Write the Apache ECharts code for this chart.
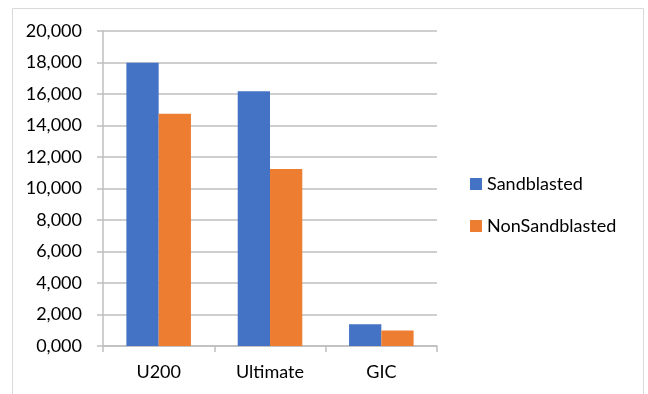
<!DOCTYPE html>
<html><head><meta charset="utf-8">
<script src="https://cdn.jsdelivr.net/npm/echarts@6/dist/echarts.min.js"></script>
<style>html,body{margin:0;padding:0;background:#fff}#c{width:648px;height:394px}</style>
</head><body><div id="c"></div>
<script>
const categories = ['U200', 'Ultimate', 'GIC'];
const seriesNames = ['Sandblasted', 'NonSandblasted'];
const sandblasted = [17980, 16170, 1380];
const nonSandblasted = [14750, 11240, 980];
const yTicks = [0, 2000, 4000, 6000, 8000, 10000, 12000, 14000, 16000, 18000, 20000];

function fmt(v) {
  const th = Math.floor(v / 1000);
  const r = String(Math.round(v % 1000)).padStart(3, '0');
  return th + ',' + r;
}
const font = 'Lato, Open Sans, sans-serif';
const chart = echarts.init(document.getElementById('c'));
chart.setOption({
  animation: false,
  backgroundColor: '#fff',
  graphic: [{
    type: 'rect', shape: { x: 12.5, y: 8.5, width: 631, height: 400 },
    style: { fill: 'none', stroke: '#d9d9d9', lineWidth: 1 }, silent: true
  }],
  grid: { left: 103, right: 211, top: 31, bottom: 48 },
  legend: {
    orient: 'vertical', left: 465, top: 170, itemWidth: 12, itemHeight: 12, itemGap: 24,
    icon: 'rect',
    textStyle: { fontFamily: font, fontSize: 18, color: '#000' },
    data: seriesNames
  },
  xAxis: {
    type: 'category', data: categories,
    axisLine: { lineStyle: { color: '#bfbfbf', width: 1.5 } },
    axisTick: { show: true, length: 6, lineStyle: { color: '#bfbfbf', width: 1.5 } },
    axisLabel: { fontFamily: font, fontSize: 18, color: '#000', margin: 17 }
  },
  yAxis: {
    type: 'value', min: yTicks[0], max: yTicks[yTicks.length - 1], interval: 2000,
    axisLine: { show: true, lineStyle: { color: '#bfbfbf', width: 1.5 } },
    axisTick: { show: true, length: 6, lineStyle: { color: '#bfbfbf', width: 1.5 } },
    splitLine: { lineStyle: { color: '#bfbfbf', width: 1.5 } },
    axisLabel: { fontFamily: font, fontSize: 18, color: '#000', margin: 21, formatter: fmt }
  },
  series: [
    { name: seriesNames[0], type: 'bar', data: sandblasted, barGap: '0%', barCategoryGap: '42%',
      itemStyle: { color: '#4472C4' } },
    { name: seriesNames[1], type: 'bar', data: nonSandblasted,
      itemStyle: { color: '#ED7D31' } }
  ]
});
</script></body></html>
